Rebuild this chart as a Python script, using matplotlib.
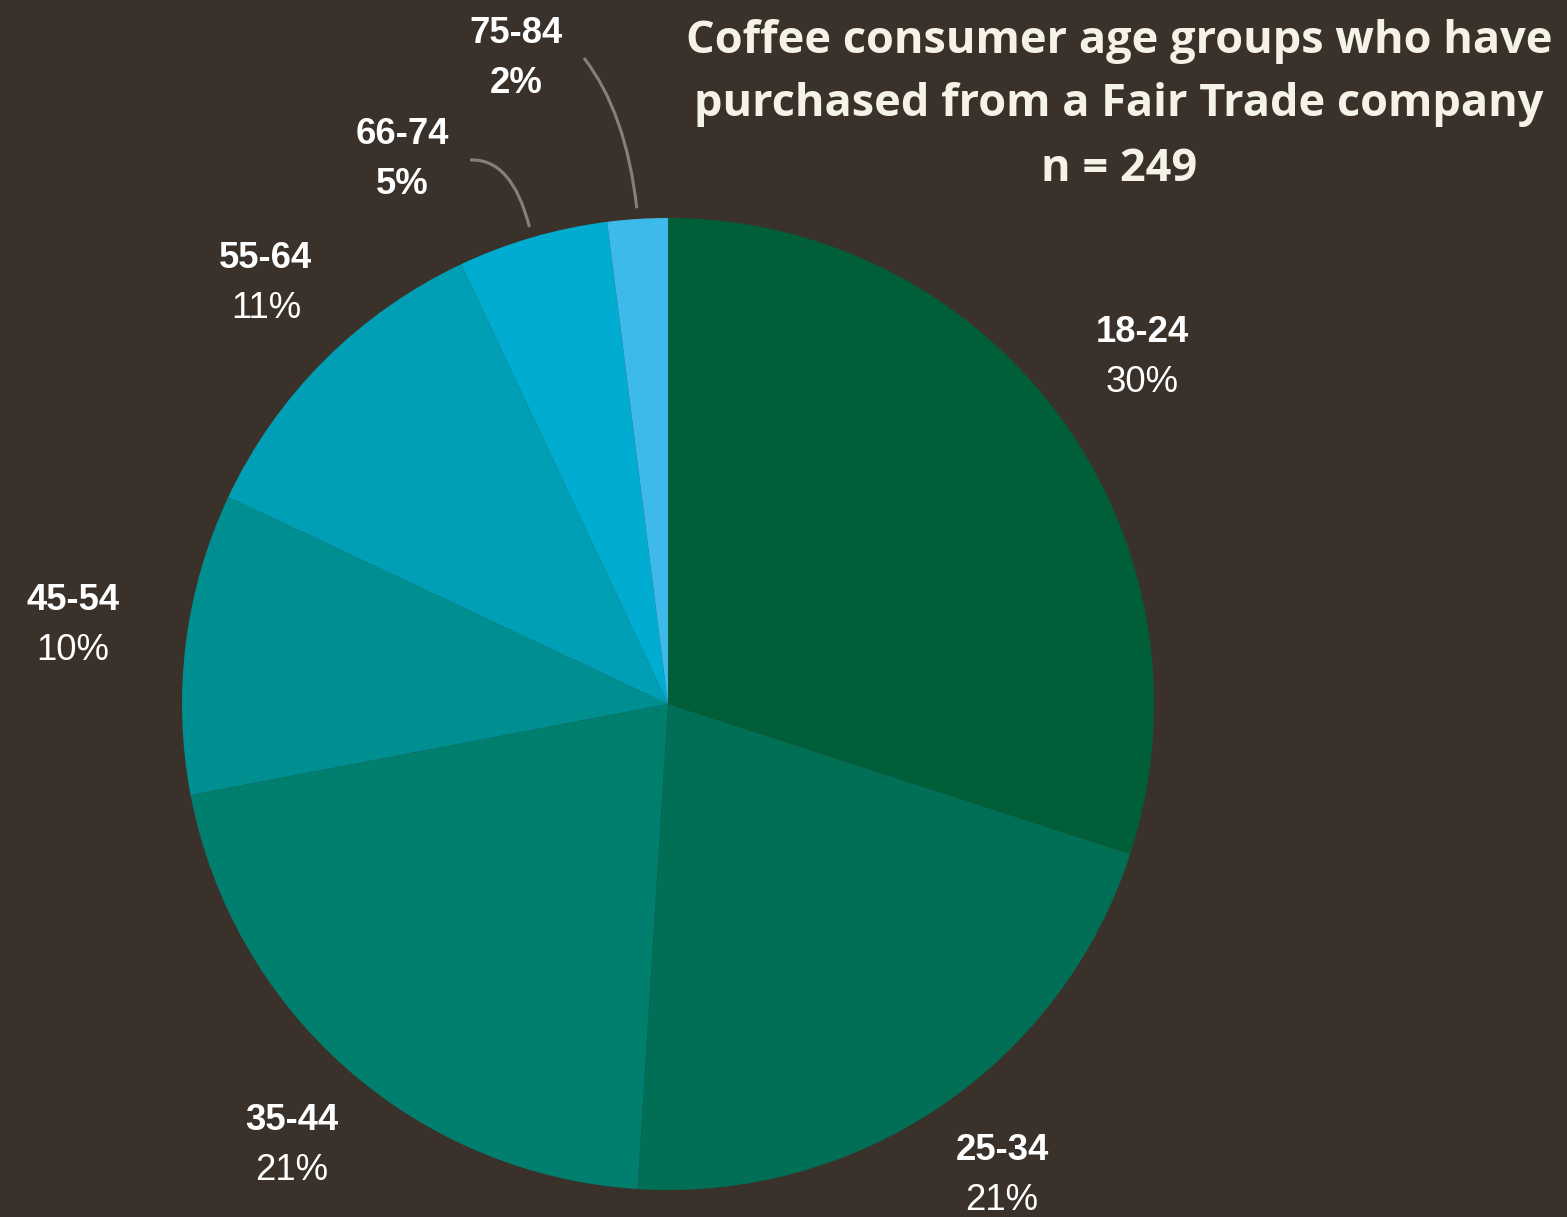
import matplotlib
matplotlib.use("Agg")
import matplotlib.pyplot as plt
from matplotlib.path import Path
from matplotlib.patches import PathPatch
import numpy as np

# Survey data: share of respondents by age group (n = 249)
age_groups = ["18-24", "25-34", "35-44", "45-54", "55-64", "66-74", "75-84"]
shares = [30, 21, 21, 10, 11, 5, 2]
pct_labels = ["30%", "21%", "21%", "10%", "11%", "5%", "2%"]
sample_size = 249

# Styling
BG = "#3a322a"
slice_colors = ["#005f38", "#006f55", "#007f6f", "#008f91", "#009fb5", "#00acd0", "#3dbaea"]
TEXT = "#ffffff"
TITLE_COLOR = "#f5f2e8"
LEADER = "#85807a"

W, H = 1567, 1217
DPI = 100
CX, CY, R = 668, 704, 486   # pie centre and radius in pixels


def px(x, y):
    """Pixel position -> data units (pie radius = 1)."""
    return (x - CX) / R, (CY - y) / R


fig = plt.figure(figsize=(W / DPI, H / DPI), dpi=DPI, facecolor=BG)
ax = fig.add_axes([0, 0, 1, 1])
ax.set_facecolor(BG)

ax.pie(shares, colors=slice_colors, startangle=90, counterclock=False,
       radius=1, center=(0, 0), wedgeprops=dict(linewidth=0, antialiased=True))

ax.set_xlim(-CX / R, (W - CX) / R)
ax.set_ylim(-(H - CY) / R, CY / R)
ax.set_aspect("equal")
ax.axis("off")

# Label placement (pixel centres of the category line), bold percent for small slices
label_pos = [(1142, 332), (1002, 1150), (292, 1120), (73, 600),
             (266, 258), (402, 134), (516, 33)]
bold_pct = [False, False, False, False, False, True, True]
LINE_GAP = 50
FS = 26.3

for name, pct, (lx, ly), b in zip(age_groups, pct_labels, label_pos, bold_pct):
    x, y = px(lx, ly)
    ax.text(x, y, name, ha="center", va="center", color=TEXT, fontsize=FS,
            fontweight="bold", family="Liberation Sans")
    x2, y2 = px(lx, ly + LINE_GAP)
    ax.text(x2, y2, pct, ha="center", va="center", color=TEXT, fontsize=FS,
            fontweight="bold" if b else "normal", family="Liberation Sans")

# Curved leader lines for the two narrow slices
cum = np.cumsum([0] + shares)
leaders = {5: ((470, 160), (512, 158)), 6: ((584, 58), (626, 112))}
for idx, (start, ctrl) in leaders.items():
    mid = (cum[idx] + cum[idx + 1]) / 2 / sum(shares)
    ang = np.deg2rad(90 - 360 * mid)
    end = (1.022 * np.cos(ang), 1.022 * np.sin(ang))
    verts = [px(*start), px(*ctrl), end]
    path = Path(verts, [Path.MOVETO, Path.CURVE3, Path.CURVE3])
    ax.add_patch(PathPatch(path, facecolor="none", edgecolor=LEADER, lw=2.2))

# Title block
title_lines = ["Coffee consumer age groups who have",
               "purchased from a Fair Trade company",
               f"n = {sample_size}"]
title_y = [41, 104, 169]
for line, ty in zip(title_lines, title_y):
    tx, tyd = px(1119, ty)
    ax.text(tx, tyd, line, ha="center", va="center", color=TITLE_COLOR,
            fontsize=32.5, fontweight="bold", family="Open Sans")

fig.savefig("out.png", dpi=DPI, facecolor=BG)
